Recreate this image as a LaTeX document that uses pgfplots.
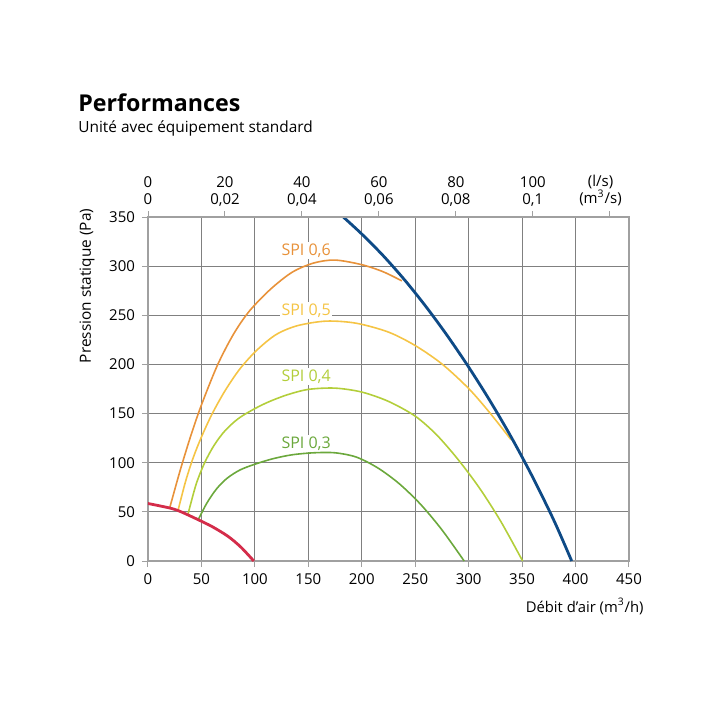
\documentclass[border=0pt]{standalone}
\usepackage{pgfplots}
\pgfplotsset{compat=1.18}
\usepackage{fontspec}
\setmainfont{Open Sans}
\definecolor{cOrange}{HTML}{E8923A}
\definecolor{cYellow}{HTML}{F5C445}
\definecolor{cLight}{HTML}{B3CE3A}
\definecolor{cGreen}{HTML}{6BA83C}
\definecolor{cRed}{HTML}{D42C4A}
\definecolor{cBlue}{HTML}{0E4A86}
\definecolor{gridgray}{HTML}{808080}
\definecolor{axgray}{HTML}{A0A0A0}
\newcommand\tl[2]{#1\\#2\vphantom{0,}}
\begin{document}
\begin{tikzpicture}
\path (0pt,0pt) rectangle (360pt,-360pt);
\node[anchor=base west, inner sep=0pt, font=\bfseries\fontsize{11.6}{14}\selectfont] at (39pt,-55.5pt) {Performances};
\node[anchor=base west, inner sep=0pt, font=\fontsize{7.7}{10}\selectfont] at (39pt,-66pt) {Unité avec équipement standard};
\node[rotate=90, inner sep=0pt, font=\fontsize{7.7}{9}\selectfont] at (43.5pt,-143pt) {Pression statique (Pa)};
\node[anchor=base east, inner sep=0pt, font=\fontsize{7.4}{9}\selectfont] at (322pt,-306pt) {Débit d’air (m\textsuperscript{3}/h)};

\begin{axis}[
  at={(74pt,-280.5pt)}, anchor=south west,
  scale only axis, width=240.5pt, height=172pt,
  xmin=0, xmax=450, ymin=0, ymax=350,
  xtick={0,50,...,450}, ytick={0,50,...,350},
  grid=major, grid style={draw=gridgray, line width=0.5pt},
  axis line style={draw=axgray, line width=0.6pt},
  tick style={draw=axgray, line width=0.5pt},
  tick align=outside, major tick length=3pt,
  xtick pos=bottom, ytick pos=left,
  ticklabel style={font=\fontsize{7.5}{9}\selectfont},
  /pgf/number format/assume math mode=true,
  /pgf/number format/1000 sep={},
]
\node[font=\fontsize{8}{10}\selectfont, text=cOrange, fill=white, inner sep=0.8pt] at (axis cs:148,316) {SPI 0,6};
\node[font=\fontsize{8}{10}\selectfont, text=cYellow, fill=white, inner sep=0.8pt] at (axis cs:148,255) {SPI 0,5};
\node[font=\fontsize{8}{10}\selectfont, text=cLight, fill=white, inner sep=0.8pt] at (axis cs:148,188) {SPI 0,4};
\node[font=\fontsize{8}{10}\selectfont, text=cGreen, fill=white, inner sep=0.8pt] at (axis cs:148,119.5) {SPI 0,3};
% SPI 0,6
\addplot[cOrange, line width=0.8pt, smooth] coordinates {
(20.3,54) (30,91.8) (40,127.3) (50,158.8) (65,199.3) (80,230.8) (95,254.5) (115,276.9) (135,293.9) (155,303.2) (175,306.2) (200,301.5) (220,294.3) (237.5,285)};
% SPI 0,5
\addplot[cYellow, line width=0.8pt, smooth] coordinates {
(28,51) (35,80.4) (42,104.2) (50,126.2) (60,149.7) (72,173.1) (86,195.5) (102,214.7) (120,230.5) (140,239.5) (167,244.1) (195,241.9) (225,232.9) (250,219.2) (275,200.5) (300,175.5) (320,150.5) (339.5,123.6)};
% SPI 0,4
\addplot[cLight, line width=0.8pt, smooth] coordinates {
(37.5,48) (45,78) (53,100) (62,118) (72,132.5) (84,144.5) (97,153.3) (112,161.5) (130,169) (150,174.6) (175,175.9) (200,171.9) (225,162.4) (250,147.4) (270,128.4) (290,103.4) (310,74.4) (330,40.4) (350.5,0)};
% SPI 0,3
\addplot[cGreen, line width=0.8pt, smooth] coordinates {
(47,42) (55,58.8) (64,73.2) (74,84.2) (86,92.6) (100,98.5) (117,104.1) (135,108.1) (155,110.1) (175,110.1) (195,105.7) (215,94.7) (235,78.7) (255,57.7) (275,31.7) (295.8,0)};
% red
\addplot[cRed, line width=1.4pt, smooth] coordinates {
(0,58.5) (20,54) (30,50.5) (47,42) (60,35) (75,25) (87,14) (99,0)};
% blue
\addplot[cBlue, line width=1.4pt, smooth] coordinates {
(182.7,350) (200,332.7) (220,310.7) (240,286.1) (260,258.9) (280,229.3) (300,197.3) (320,162.9) (340,125.7) (360,85.1) (380,40.7) (396.4,0)};
\end{axis}

\begin{axis}[
  at={(74pt,-280.5pt)}, anchor=south west,
  scale only axis, width=240.5pt, height=172pt,
  xmin=0, xmax=125, ymin=0, ymax=350,
  axis x line*=top, axis y line=none, clip=false,
  axis line style={draw=axgray, line width=0.6pt},
  tick style={draw=axgray, line width=0.5pt},
  tick align=outside, major tick length=3pt,
  xtick={0,20,...,120},
  xticklabels={{\tl{0}{0}},{\tl{20}{0,02}},{\tl{40}{0,04}},{\tl{60}{0,06}},{\tl{80}{0,08}},{\tl{100}{0,1}},{}},
  xticklabel style={align=center, yshift=-1pt, font=\fontsize{7.5}{8.5}\selectfont},
]
\addplot[draw=none] coordinates {(0,0)};
\node[anchor=south, yshift=2pt, align=center, font=\fontsize{7.5}{8.5}\selectfont] at (axis cs:117.6,350) {\tl{(l/s)}{(m\textsuperscript{3}/s)}};
\end{axis}
\end{tikzpicture}
\end{document}
